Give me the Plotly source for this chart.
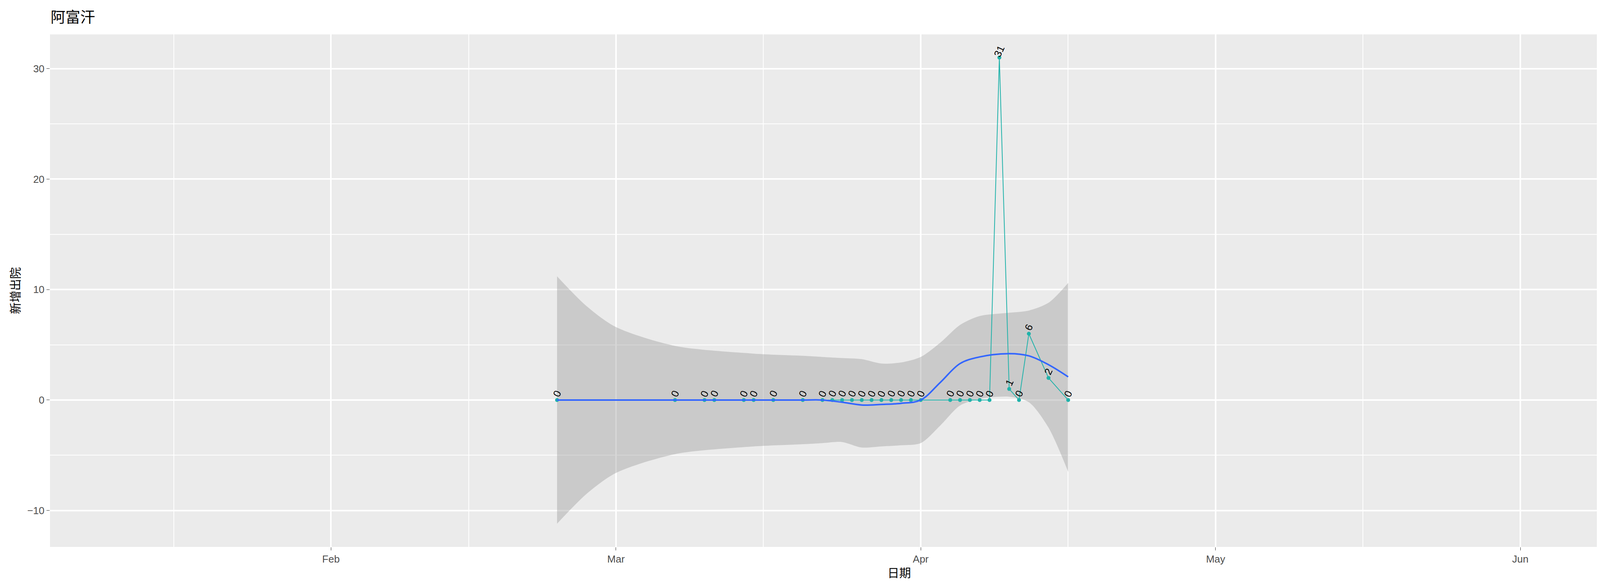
import plotly.graph_objects as go

dates = ["2020-02-24","2020-03-07","2020-03-10","2020-03-11","2020-03-14","2020-03-15","2020-03-17",
         "2020-03-20","2020-03-22","2020-03-23","2020-03-24","2020-03-25","2020-03-26","2020-03-27",
         "2020-03-28","2020-03-29","2020-03-30","2020-03-31","2020-04-01","2020-04-04","2020-04-05",
         "2020-04-06","2020-04-07","2020-04-08","2020-04-09","2020-04-10","2020-04-11","2020-04-12",
         "2020-04-14","2020-04-16"]
values = [0]*24 + [31, 1, 0, 6, 2, 0]

smooth_dates = ["2020-02-24","2020-02-27","2020-03-01","2020-03-07","2020-03-15","2020-03-20","2020-03-22","2020-03-24",
                "2020-03-26","2020-03-28","2020-03-30","2020-04-01","2020-04-03","2020-04-05","2020-04-07",
                "2020-04-10","2020-04-12","2020-04-14","2020-04-16"]
smooth_fit = [0, 0, 0, 0, 0, 0, 0, -0.2, -0.45, -0.4, -0.3, 0.0, 1.6, 3.3, 3.9, 4.2, 4.0, 3.2, 2.1]
smooth_hi = [11.2, 8.5, 6.6, 4.9, 4.2, 4.0, 3.9, 3.8, 3.7, 3.3, 3.4, 3.9, 5.2, 6.8, 7.6, 7.9, 8.1, 8.8, 10.6]
smooth_lo = [-11.2, -8.5, -6.6, -4.9, -4.2, -4.0, -3.9, -3.8, -4.3, -4.2, -4.1, -3.9, -2.3, -0.5, 0.1, 0.3, -0.2, -2.5, -6.5]

fig = go.Figure()
fig.add_trace(go.Scatter(x=smooth_dates, y=smooth_lo, mode="lines",
                         line=dict(width=0, shape="spline", smoothing=0.8), hoverinfo="skip", showlegend=False))
fig.add_trace(go.Scatter(x=smooth_dates, y=smooth_hi, mode="lines", fill="tonexty",
                         fillcolor="rgba(153,153,153,0.4)", line=dict(width=0, shape="spline", smoothing=0.8),
                         hoverinfo="skip", showlegend=False))
fig.add_trace(go.Scatter(x=dates, y=values, mode="lines+markers",
                         line=dict(color="#20B2AA", width=2),
                         marker=dict(color="#20B2AA", size=10), showlegend=False))
fig.add_trace(go.Scatter(x=smooth_dates, y=smooth_fit, mode="lines", line=dict(color="#3366FF", width=4,
                         shape="spline"), showlegend=False))
for d, v in zip(dates, values):
    fig.add_annotation(x=d, y=v, text=str(v), showarrow=False, textangle=-65, yshift=16,
                       font=dict(size=26, color="black", family="Liberation Sans"))

fig.update_layout(
    width=4500, height=1500, paper_bgcolor="white", plot_bgcolor="#EBEBEB",
    margin=dict(l=120, r=32, t=80, b=108),
    title=dict(text="阿富汗", x=0.027, xanchor="left", y=0.985, yanchor="top",
               font=dict(size=38, family="Noto Sans CJK SC", color="black")),
    font=dict(family="Liberation Sans", size=26, color="#4D4D4D"),
)
fig.update_xaxes(range=["2020-01-03 10:00", "2020-06-24 05:00"], tickvals=["2020-02-01","2020-03-01","2020-04-01","2020-05-01","2020-06-01"],
                 ticktext=["Feb","Mar","Apr","May","Jun"], showgrid=True, gridcolor="white", gridwidth=4,
                 ticks="outside", ticklen=8, tickcolor="#333333", zeroline=False,
                 minor=dict(tickvals=["2020-01-16","2020-02-15","2020-03-16","2020-04-16","2020-05-16","2020-06-16"],
                            showgrid=True, gridcolor="white", gridwidth=2, ticks=""),
                 title=dict(text="日期", standoff=10, font=dict(size=30, family="Noto Sans CJK SC", color="black")))
fig.update_yaxes(range=[-13.3, 33.1], tickvals=[-10, 0, 10, 20, 30], showgrid=True, gridcolor="white", gridwidth=4,
                 ticks="outside", ticklen=8, tickcolor="#333333", zeroline=False,
                 minor=dict(tickvals=[-5, 5, 15, 25], showgrid=True, gridcolor="white", gridwidth=2, ticks=""),
                 title=dict(text="新增出院", standoff=10, font=dict(size=30, family="Noto Sans CJK SC", color="black")))
fig.write_html("out.html")
